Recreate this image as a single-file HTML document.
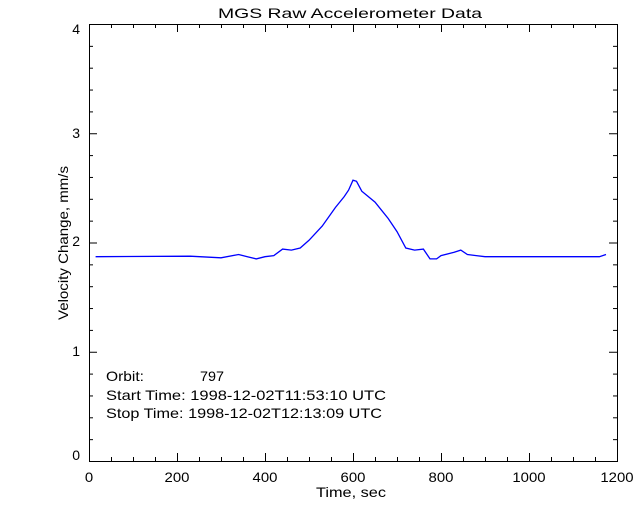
<!DOCTYPE html>
<html><head><style>body{margin:0;background:#fff}svg{display:block}text{font-family:"Liberation Sans",sans-serif;font-size:14px;fill:#000}</style></head>
<body>
<svg width="640" height="512" xmlns="http://www.w3.org/2000/svg">
<rect width="640" height="512" fill="#fff"/>
<g id="ticks" stroke="#000" stroke-width="1"></g>
<rect x="89.5" y="24.5" width="528" height="437" fill="none" stroke="#000"/>
<polyline id="d" fill="none" stroke="#0000ff" stroke-width="1.3"/>
<text x="218" y="18" textLength="264" lengthAdjust="spacingAndGlyphs" font-size="15">MGS Raw Accelerometer Data</text>
<text x="316" y="497" textLength="70" lengthAdjust="spacingAndGlyphs">Time, sec</text>
<text transform="translate(68,320) rotate(-90)" textLength="154" lengthAdjust="spacingAndGlyphs">Velocity Change, mm/s</text>
<text x="106" y="381" textLength="38" lengthAdjust="spacingAndGlyphs">Orbit:</text>
<text x="200" y="381" textLength="24" lengthAdjust="spacingAndGlyphs">797</text>
<text x="106" y="400" textLength="280" lengthAdjust="spacingAndGlyphs">Start Time: 1998-12-02T11:53:10 UTC</text>
<text x="106" y="418" textLength="276" lengthAdjust="spacingAndGlyphs">Stop Time: 1998-12-02T12:13:09 UTC</text>
<g id="lab"></g>
</svg>
<script>
var L=89,R=617,T=24,B=461;
function X(t){return L+t*(R-L)/1200}function Y(v){return B-v*(B-T)/4}
var g=document.getElementById('ticks'),lab=document.getElementById('lab'),s='',l='';
for(var t=0;t<=1200;t+=50){var x=X(t)+.5,m=t%200==0,h=m?8:4;
s+='<line x1="'+x+'" y1="'+B+'" x2="'+x+'" y2="'+(B-h)+'"/><line x1="'+x+'" y1="'+T+'" x2="'+x+'" y2="'+(T+h)+'"/>';
if(m){var w=String(t).length*8.3;l+='<text x="'+(X(t)-w/2)+'" y="482" textLength="'+w+'" lengthAdjust="spacingAndGlyphs">'+t+'</text>';}}
for(var i=0;i<=20;i++){var v=i/5,y=Y(v)+.5,m=i%5==0,h=m?8:4;
s+='<line x1="'+L+'" y1="'+y+'" x2="'+(L+h)+'" y2="'+y+'"/><line x1="'+R+'" y1="'+y+'" x2="'+(R-h)+'" y2="'+y+'"/>';}
var yc=[455,351,241,133,29];
for(var k=0;k<5;k++)l+='<text x="80" y="'+(yc[k]+5)+'" text-anchor="end">'+k+'</text>';
g.innerHTML=s;lab.innerHTML=l;
var p=[[15,1.87],[230,1.875],[300,1.86],[340,1.89],[360,1.87],[380,1.85],[400,1.87],[420,1.88],[440,1.94],[460,1.93],[480,1.95],[500,2.02],[530,2.15],[560,2.32],[580,2.42],[590,2.48],[600,2.57],[608,2.56],[620,2.47],[650,2.37],[680,2.22],[700,2.10],[720,1.95],[740,1.93],[760,1.94],[775,1.85],[790,1.85],[800,1.88],[830,1.91],[845,1.93],[860,1.89],[880,1.88],[900,1.87],[1100,1.87],[1160,1.87],[1175,1.89]];
document.getElementById('d').setAttribute('points',p.map(function(a){return X(a[0]).toFixed(1)+','+Y(a[1]).toFixed(1)}).join(' '));
</script>
</body></html>
